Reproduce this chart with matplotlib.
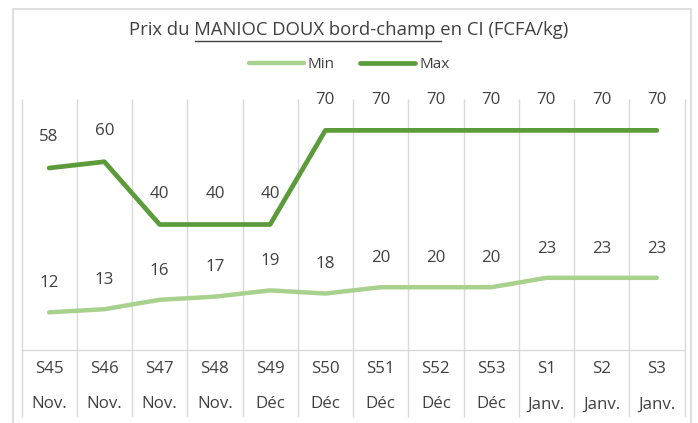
import matplotlib
matplotlib.use("Agg")
import matplotlib.pyplot as plt
from matplotlib.lines import Line2D
import matplotlib.transforms as mtransforms
import numpy as np

weeks = ["S45", "S46", "S47", "S48", "S49", "S50", "S51", "S52", "S53", "S1", "S2", "S3"]
months = ["Nov.", "Nov.", "Nov.", "Nov.", "Déc", "Déc", "Déc", "Déc", "Déc", "Janv.", "Janv.", "Janv."]
prix_min = [12, 13, 16, 17, 19, 18, 20, 20, 20, 23, 23, 23]
prix_max = [58, 60, 40, 40, 40, 70, 70, 70, 70, 70, 70, 70]

light_green = "#A9D18E"
dark_green = "#5B9B3A"
grid_col = "#D9D9D9"
txt_col = "#404040"
font = "Open Sans"
lab_size = 12.2

plt.rcParams['font.family'] = [font, 'DejaVu Sans']

fig = plt.figure(figsize=(6.98, 4.23), dpi=100)
ax = fig.add_axes([21.5 / 698, 1 - 350 / 423, 663 / 698, 251 / 423])

x = np.arange(len(weeks))
ax.plot(x, prix_min, color=light_green, lw=3.2, solid_capstyle='round', solid_joinstyle='round', label="Min")
ax.plot(x, prix_max, color=dark_green, lw=3.4, solid_capstyle='round', solid_joinstyle='round', label="Max")

for xi, v in zip(x, prix_min):
    ax.annotate(str(v), (xi, v), xytext=(0, 21), textcoords='offset points',
                ha='center', va='center', fontsize=lab_size, color=txt_col)
for xi, v in zip(x, prix_max):
    ax.annotate(str(v), (xi, v), xytext=(0, 22), textcoords='offset points',
                ha='center', va='center', fontsize=lab_size, color=txt_col)

ax.set_xlim(-0.5, len(weeks) - 0.5)
ax.set_ylim(0, 80)
ax.set_yticks([])
ax.set_xticks([])
for s in ["top", "left", "right"]:
    ax.spines[s].set_visible(False)
ax.spines["bottom"].set_color(grid_col)
ax.spines["bottom"].set_linewidth(1)

# category separators, through plot area and label rows
trans = mtransforms.blended_transform_factory(ax.transData, ax.transAxes)
bounds = np.arange(len(weeks) + 1) - 0.5
ax.vlines(bounds, -0.267, 1.0, transform=trans, color=grid_col, lw=1, clip_on=False, zorder=0)

for xi, w, m in zip(x, weeks, months):
    ax.text(xi, -0.077, w, transform=trans, ha='center', va='center', fontsize=lab_size, color=txt_col)
    ax.text(xi, -0.217, m, transform=trans, ha='center', va='center', fontsize=lab_size, color=txt_col)

# legend
handles = [Line2D([], [], color=light_green, lw=3.2, solid_capstyle='round'),
           Line2D([], [], color=dark_green, lw=3.4, solid_capstyle='round')]
fig.legend(handles, ["Min", "Max"], loc='center', bbox_to_anchor=(0.5, 1 - 65 / 423), ncol=2,
           frameon=False, fontsize=11, handlelength=3.6, handletextpad=0.25, columnspacing=1.7,
           labelcolor=txt_col)

# chart border
fig.add_artist(plt.Rectangle((13 / 698, -0.1), 678 / 698, 1.1 - 9 / 423, transform=fig.transFigure,
                             fill=False, edgecolor=grid_col, lw=1.2))

# title with underlined part
title = "Prix du MANIOC DOUX bord-champ en CI (FCFA/kg)"
title_size = 13.3
ty = 1 - 30 / 423
t = fig.text(0.5, ty, title, ha='center', va='center', fontsize=title_size, color=txt_col)
fig.canvas.draw()
r = fig.canvas.get_renderer()


def width(s):
    tmp = fig.text(0, 0, s, fontsize=title_size)
    w = tmp.get_window_extent(r).width
    tmp.remove()
    return w


bb = t.get_window_extent(r)
wx = width("X")
x0 = bb.x0 + width("Prix du X") - wx
x1 = bb.x0 + width("Prix du MANIOC DOUX bord-champ X") - wx
uy = 423 - 41
fig.add_artist(Line2D([x0 / 698, x1 / 698], [uy / 423, uy / 423], transform=fig.transFigure,
                      color=txt_col, lw=1))

fig.savefig("out.png", dpi=100)
